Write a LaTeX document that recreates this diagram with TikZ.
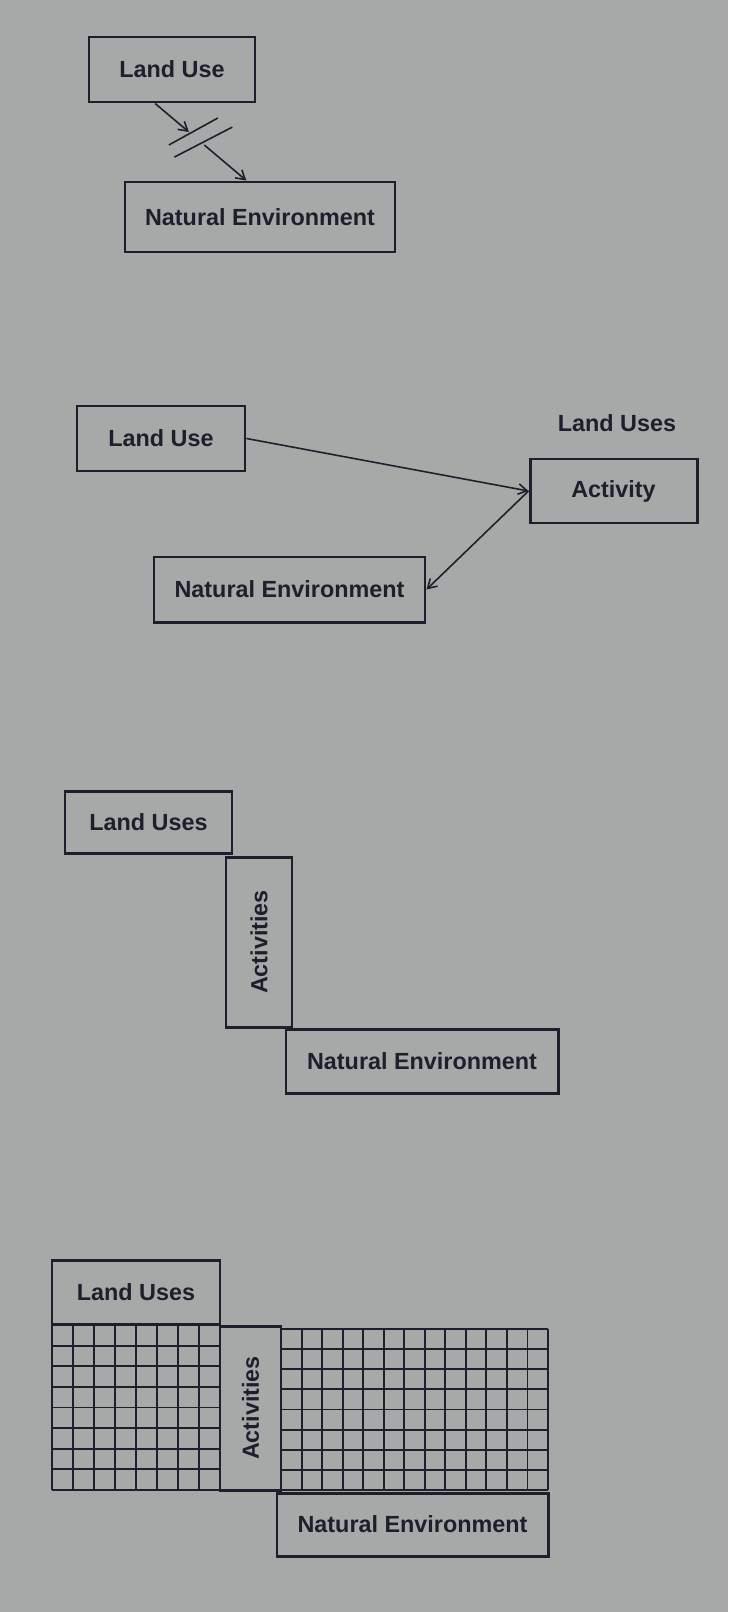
\documentclass[tikz,border=0pt]{standalone}
\usepackage{fontspec}
\setmainfont{Liberation Sans}
\usetikzlibrary{calc,arrows.meta}
\definecolor{paper}{RGB}{166,169,167}
\definecolor{ink}{RGB}{30,30,44}
\newlength{\pxu}
\setlength{\pxu}{0.02cm}

\begin{document}
\begin{tikzpicture}[x=0.02cm, y=-0.02cm, >={Straight Barb[length=5pt,width=6pt]},
    box/.style={draw=ink, line width=1.7pt, inner sep=0pt, text=ink,
      font=\bfseries\fontsize{13.3}{16}\selectfont},
    link/.style={draw=ink, line width=0.9pt, ->},
    gridline/.style={draw=ink, line width=1.1pt}]
	% paper
	\fill[paper] (0,0) rectangle (728,1612);
	\useasboundingbox (0,0) rectangle (728,1612);

	% first: broken link
	\node[box, minimum width=166\pxu, minimum height=65\pxu] (lu1) at (172,69.5) {Land Use};
	\node[box, minimum width=270\pxu, minimum height=70\pxu] (ne1) at (260,217) {Natural Environment};
	\coordinate (p1) at ($(lu1.south west)!0.4!(lu1.south east)$);
	\coordinate (p2) at ($(ne1.north west)!0.45!(ne1.north east)$);
	\draw[link] (p1) -- ($(p1)!0.37!(p2)$) coordinate (c1);
	\draw[link] ($(p1)!0.54!(p2)$) coordinate (c2) -- (p2);
	\draw[ink, line width=0.9pt] (c1) ++(-20,13) -- ++(49,-27);
	\draw[ink, line width=0.9pt] (c2) ++(-30,12) -- ++(58,-30);

	% second: through the activity
	\node[box, minimum width=168\pxu, minimum height=65\pxu] (lu2) at (161,438.5) {Land Use};
	\node[box, minimum width=167\pxu, minimum height=64\pxu] (act2) at (613.5,491) {Activity};
	\node[box, draw=none] (lbl2) at (617,423) {Land Uses};
	\node[box, minimum width=271\pxu, minimum height=65\pxu] (ne2) at (289.5,589.5) {Natural Environment};
	\draw[link] (lu2.east) -- (act2.west);
	\draw[link] (act2.west) -- (ne2.east);

	% third: stepped boxes
	\node[box, minimum width=167\pxu, minimum height=62\pxu] (lu3) at (148.5,822) {Land Uses};
	\node[box, rotate=90, minimum width=170\pxu, minimum height=66\pxu] (act3) at (259,942) {Activities};
	\node[box, minimum width=272\pxu, minimum height=64\pxu] (ne3) at (422,1061) {Natural Environment};

	% fourth: stepped boxes with grids
	\foreach \i in {0,...,8} {
		\draw[gridline] ({52+21*\i},1325) -- ({52+21*\i},1490);
		\draw[gridline] (52,{1325+20.625*\i}) -- (220,{1325+20.625*\i});
		\draw[gridline] (281,{1329+20.125*\i}) -- (548,{1329+20.125*\i});
	}
	\foreach \i in {0,...,13}
		\draw[gridline] ({281+20.54*\i},1329) -- ({281+20.54*\i},1490);
	\node[box, fill=paper, minimum width=168\pxu, minimum height=64\pxu] (lu4) at (136,1292) {Land Uses};
	\node[box, fill=paper, rotate=90, minimum width=164\pxu, minimum height=61\pxu] (act4) at (250.5,1408) {Activities};
	\node[box, fill=paper, minimum width=271\pxu, minimum height=63\pxu] (ne4) at (412.5,1524.5) {Natural Environment};
\end{tikzpicture}
\end{document}
